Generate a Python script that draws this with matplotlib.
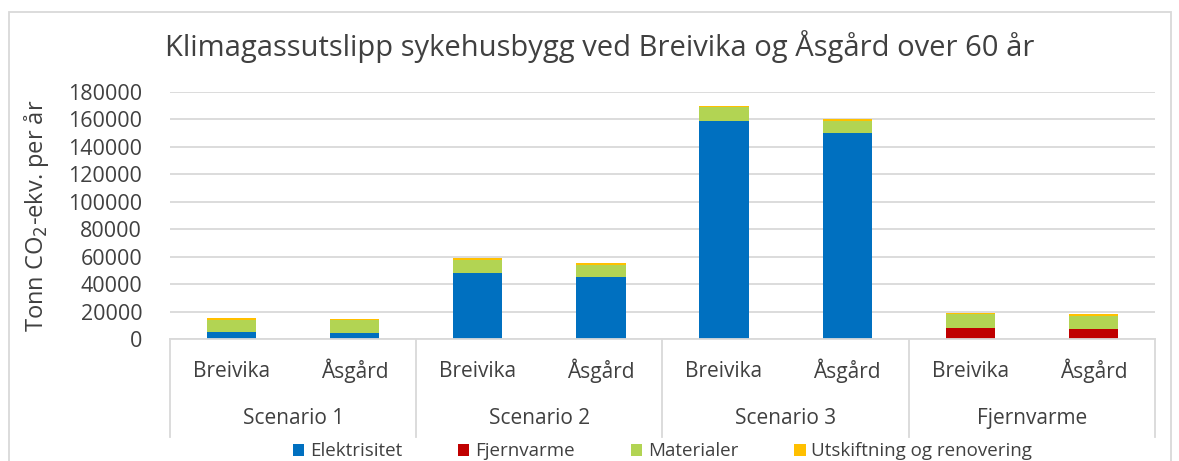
import numpy as np
import matplotlib.pyplot as plt
from matplotlib.patches import Rectangle

plt.rcParams['font.family'] = ['Open Sans', 'DejaVu Sans']

# data (tonn CO2-ekv.)
groups = ["Scenario 1", "Scenario 2", "Scenario 3", "Fjernvarme"]
places = ["Breivika", "Åsgård"]
elektrisitet = [5000, 4500, 48000, 45000, 159000, 150000, 0, 0]
fjernvarme = [0, 0, 0, 0, 0, 0, 8000, 7500]
materialer = [9000, 9000, 9500, 9000, 10000, 9000, 10000, 9500]
utskiftning = [1500, 1000, 1500, 1200, 1000, 1000, 700, 1000]

series = [("Elektrisitet", elektrisitet, "#0070C0"),
          ("Fjernvarme", fjernvarme, "#C00000"),
          ("Materialer", materialer, "#B2D453"),
          ("Utskiftning og renovering", utskiftning, "#FFC000")]

fig = plt.figure(figsize=(11.79, 4.61), dpi=100)
ax = fig.add_axes([0.1442, 0.2646, 0.8354, 0.5358])

x = np.arange(len(elektrisitet))
bottom = np.zeros(len(x))
for name, vals, col in series:
    ax.bar(x, vals, 0.4, bottom=bottom, color=col, label=name, zorder=3)
    bottom += np.array(vals)

ax.set_xlim(-0.5, len(x) - 0.5)
ax.set_ylim(0, 180000)
ax.set_yticks(np.arange(0, 180001, 20000))
ax.tick_params(axis='y', length=0, labelsize=15.5, pad=20, labelcolor='#404040')
ax.set_xticks([])
ax.grid(axis='y', color='#D9D9D9', linewidth=1.3, zorder=0)
for s in ax.spines.values():
    s.set_visible(False)

ax.set_ylabel("Tonn CO$_2$-ekv. per år", fontsize=17, color='#404040', labelpad=12)
ax.set_title("Klimagassutslipp sykehusbygg ved Breivika og Åsgård over 60 år",
             fontsize=21, color='#404040', pad=26, loc='left', x=-0.005)

# category axis with two levels
trans = ax.get_xaxis_transform()
ax.plot([-0.5, len(x) - 0.5], [0, 0], transform=trans, color='#D9D9D9',
        lw=1.3, clip_on=False, zorder=4)
for b in np.arange(-0.5, len(x), 2):
    ax.plot([b, b], [0, -0.395], transform=trans, color='#D9D9D9', lw=1.3,
            clip_on=False)
for i in x:
    ax.text(i, -0.13, places[i % 2], transform=trans, ha='center', va='center',
            fontsize=15, color='#404040')
for g, name in enumerate(groups):
    ax.text(2 * g + 0.5, -0.32, name, transform=trans, ha='center', va='center',
            fontsize=15, color='#404040')

ax.legend(loc='center', bbox_to_anchor=(0.5, -0.455), ncol=4, frameon=False,
          fontsize=13.5, handlelength=0.6, handleheight=0.6, handletextpad=0.3,
          columnspacing=3.0, labelcolor='#404040')

# chart border
fig.patches.append(Rectangle((0.008, -0.02), 0.985, 0.995, transform=fig.transFigure,
                             fill=False, edgecolor='#D9D9D9', lw=1.3))

fig.savefig("out.png", dpi=100)
